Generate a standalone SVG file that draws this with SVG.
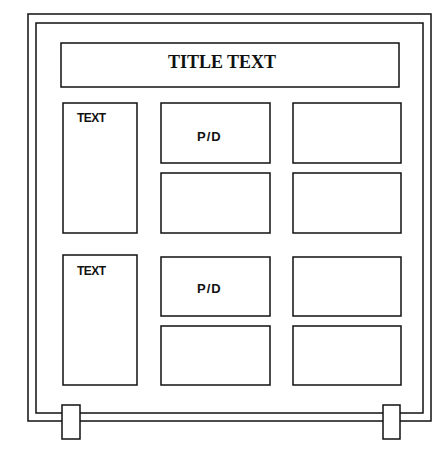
<svg xmlns="http://www.w3.org/2000/svg" width="445" height="450" viewBox="0 0 445 450">
<style>
.ln{fill:none;stroke:#111;stroke-width:1.5}
.bx{fill:#fff;stroke:#111;stroke-width:1.5}
.t{font-family:"Liberation Sans",Arial,sans-serif;font-size:12px;fill:#111;font-weight:bold}
.pd{font-family:"Liberation Sans",Arial,sans-serif;font-size:13px;fill:#111;font-weight:bold;letter-spacing:1px}
.tt{font-family:"Liberation Serif","Times New Roman",serif;font-size:18px;fill:#111;font-weight:bold}
</style>
<rect width="445" height="450" fill="#fff"/>
<g id="frame">
<rect class="ln" x="28" y="14" width="403" height="407"/>
<rect class="ln" x="36" y="23" width="387" height="390"/>
</g>
<g id="title"><rect class="bx" x="61" y="43" width="338" height="44"/><text class="tt" x="222" y="68" text-anchor="middle">TITLE TEXT</text></g>
<g id="text1"><rect class="bx" x="63" y="103" width="74" height="130"/><text class="t" x="77" y="122" textLength="29">TEXT</text></g>
<g id="pd1"><rect class="bx" x="161" y="103" width="109" height="60"/><text class="pd" x="197" y="141">P/D</text></g>
<g id="m2"><rect class="bx" x="161" y="173" width="109" height="60"/></g>
<g id="r1"><rect class="bx" x="293" y="103" width="108" height="60"/></g>
<g id="r2"><rect class="bx" x="293" y="173" width="108" height="60"/></g>
<g id="text2"><rect class="bx" x="63" y="255" width="74" height="130"/><text class="t" x="77" y="275" textLength="29">TEXT</text></g>
<g id="pd2"><rect class="bx" x="161" y="257" width="109" height="59"/><text class="pd" x="197" y="293">P/D</text></g>
<g id="m4"><rect class="bx" x="161" y="326" width="109" height="59"/></g>
<g id="r3"><rect class="bx" x="293" y="257" width="108" height="59"/></g>
<g id="r4"><rect class="bx" x="293" y="326" width="108" height="59"/></g>
<g id="foot1"><rect class="bx" x="62" y="405" width="18" height="34"/></g>
<g id="foot2"><rect class="bx" x="383" y="405" width="17" height="34"/></g>
<g id="connectors"></g>
</svg>
